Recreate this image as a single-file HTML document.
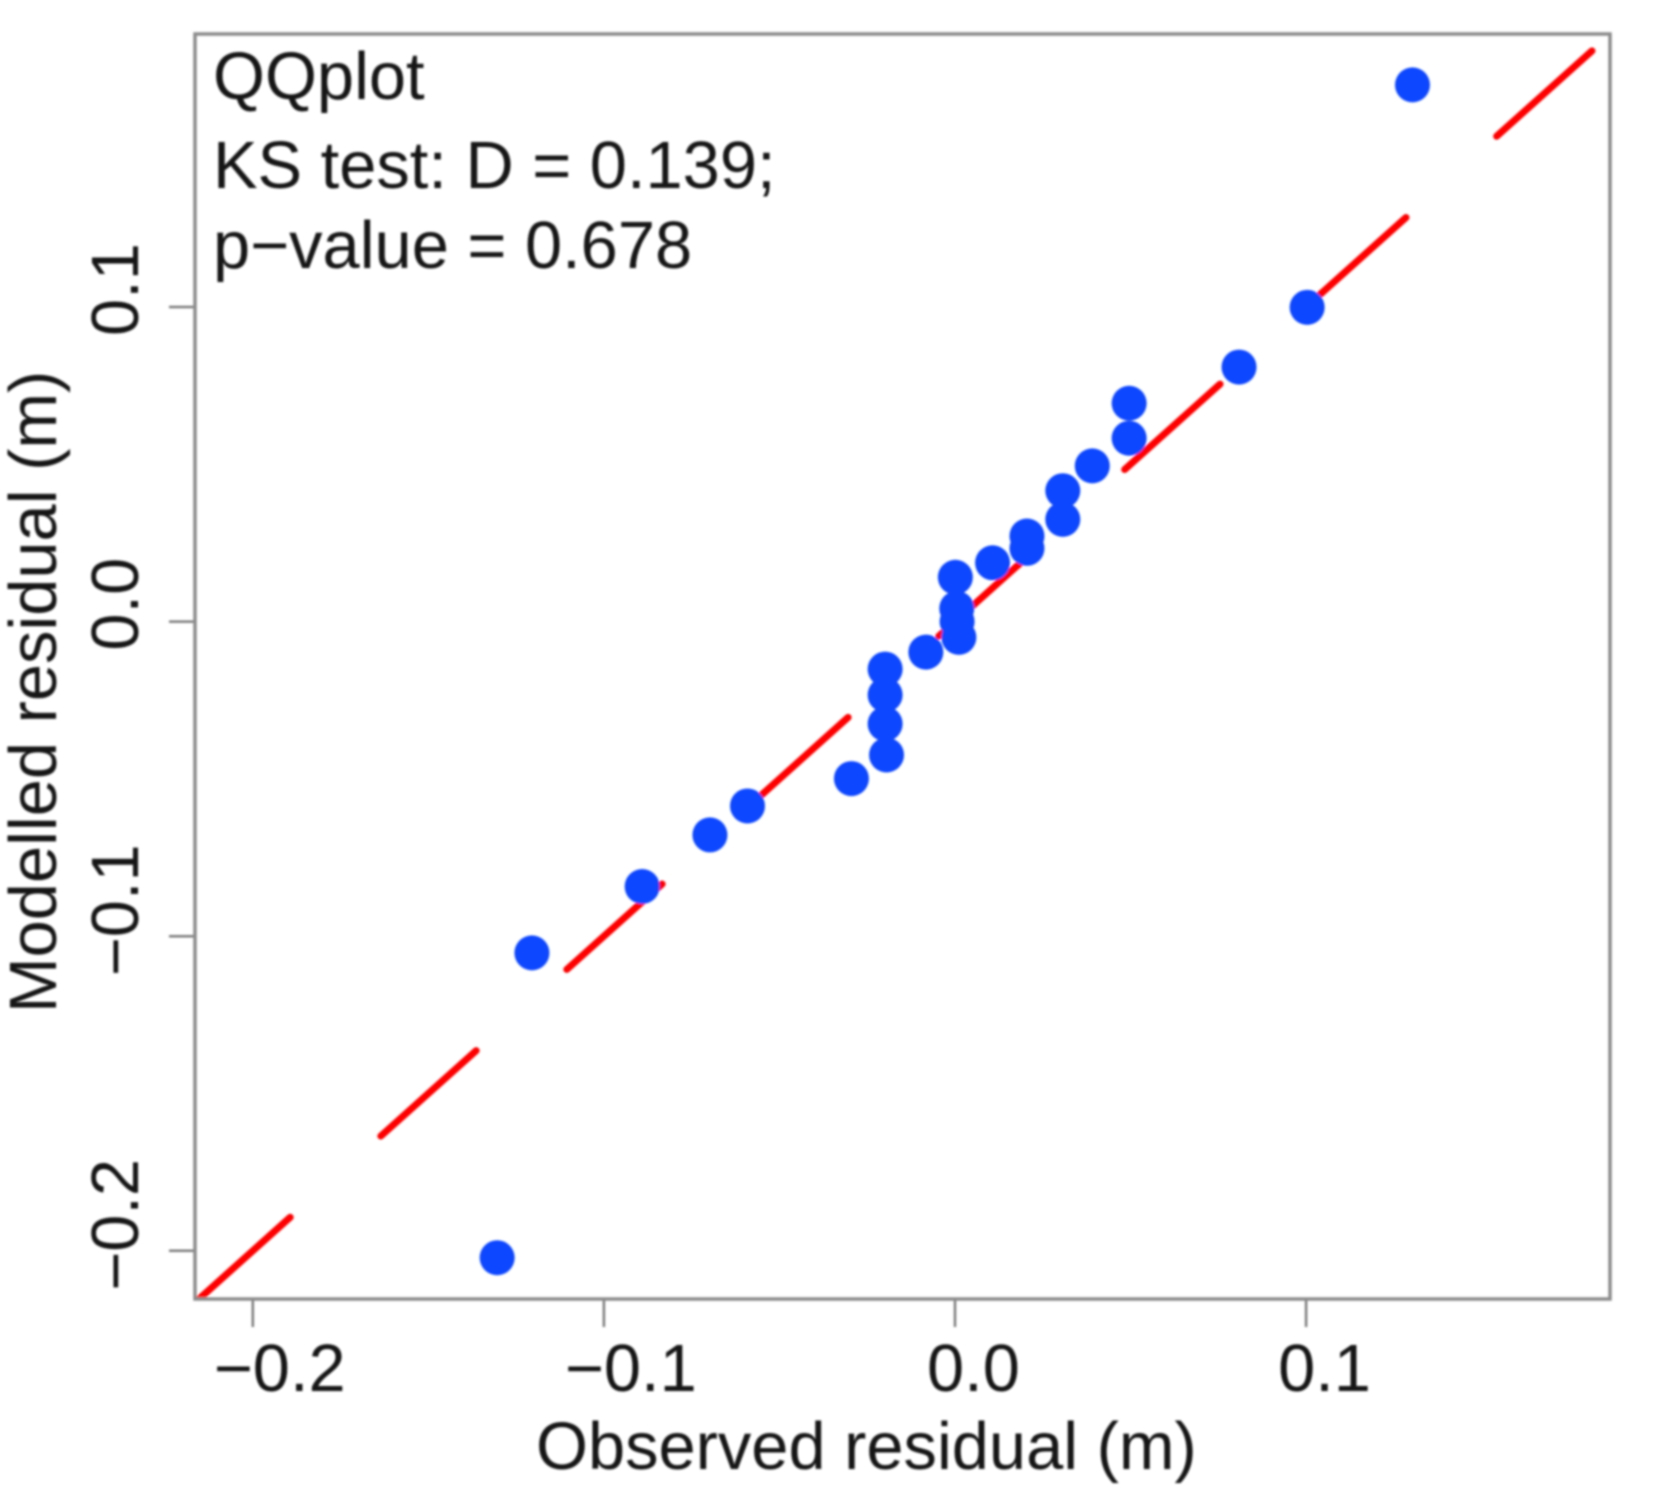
<!DOCTYPE html>
<html>
<head>
<meta charset="utf-8">
<title>QQplot</title>
<style>
html,body{margin:0;padding:0;background:#fff;}
svg{display:block;}
text{font-family:"Liberation Sans",Arial,sans-serif;font-size:66.8px;fill:#161616;}
</style>
</head>
<body>
<svg id="chart" xmlns="http://www.w3.org/2000/svg" width="1654" height="1505" viewBox="0 0 1654 1505">
<defs>
<filter id="soft" x="0" y="0" width="100%" height="100%" filterUnits="userSpaceOnUse" primitiveUnits="userSpaceOnUse"><feGaussianBlur stdDeviation="1"/></filter>
<clipPath id="plot-clip"><rect x="195" y="33" width="1415" height="1266"/></clipPath>
</defs>
<rect x="0" y="0" width="1654" height="1505" fill="#ffffff"/>
<g id="root" filter="url(#soft)">
<g id="ref-layer" clip-path="url(#plot-clip)"></g>
<g id="points-layer"></g>
<g id="x-axis"></g>
<g id="y-axis"></g>
<rect x="195" y="34" width="1415" height="1265" fill="none" stroke="#8c8c8c" stroke-width="3.5"/>
<text x="213" y="99">QQplot</text>
<text x="213" y="188">KS test: D = 0.139;</text>
<text x="213" y="268">p−value = 0.678</text>
<text x="536" y="1469">Observed residual (m)</text>
<text transform="translate(56,1013) rotate(-90)">Modelled residual (m)</text>
</g>
</svg>
<script>
var observed = [-0.1304,-0.1205,-0.0891,-0.0698,-0.0591,-0.0295,-0.0195,-0.0199,-0.0199,-0.0199,-0.0083,0.0011,0.0006,0.0005,0.0001,0.0107,0.0205,0.0205,0.0307,0.0307,0.0391,0.0496,0.0496,0.0809,0.1003,0.1303];
var modelled = [-0.2022,-0.1053,-0.0842,-0.0678,-0.0586,-0.0499,-0.0424,-0.0325,-0.0233,-0.0151,-0.0097,-0.0050,0.0000,0.0042,0.0141,0.0187,0.0233,0.0272,0.0325,0.0416,0.0495,0.0583,0.0694,0.0809,0.0999,0.1706];
var xTicks = [-0.2,-0.1,0.0,0.1];
var yTicks = [-0.2,-0.1,0.0,0.1];
var xLimits = [-0.2165,0.1866];
var NS = 'http://www.w3.org/2000/svg';
function xScale(v){ return 955 + 3511 * v; }
function yScale(v){ return 621.6 - 3146 * v; }
function fmt(v){ return (v < 0 ? '\u2212' : '') + Math.abs(v).toFixed(1); }

var refLayer = document.getElementById('ref-layer');
var refLine = document.createElementNS(NS, 'line');


refLine.setAttribute('x1', xScale(xLimits[0]));
refLine.setAttribute('y1', yScale(xLimits[0]));
refLine.setAttribute('x2', xScale(xLimits[1]));
refLine.setAttribute('y2', yScale(xLimits[1]));
refLine.setAttribute('stroke', '#ff0000');
refLine.setAttribute('stroke-width', '7');
refLine.setAttribute('stroke-linecap', 'round');
refLine.setAttribute('stroke-dasharray', '128 121.7');
refLayer.appendChild(refLine);

var pointsLayer = document.getElementById('points-layer');
observed.forEach(function(o, i){
  var c = document.createElementNS(NS, 'circle');
  
  
  c.setAttribute('cx', xScale(o));
  c.setAttribute('cy', yScale(modelled[i]));
  c.setAttribute('r', '17.5');
  c.setAttribute('fill', '#0d47ff');
  pointsLayer.appendChild(c);
});

var xAxis = document.getElementById('x-axis');
xTicks.forEach(function(v){
  var px = xScale(v);
  var t = document.createElementNS(NS, 'line');
  
  
  t.setAttribute('x1', px);
  t.setAttribute('x2', px);
  t.setAttribute('y1', 1299);
  t.setAttribute('y2', 1327);
  t.setAttribute('stroke', '#7d7d7d');
  t.setAttribute('stroke-width', '2.5');
  xAxis.appendChild(t);
  var l = document.createElementNS(NS, 'text');
  
  
  l.setAttribute('x', px + (v < 0 ? -39 : -28));
  l.setAttribute('y', 1391);
  l.textContent = fmt(v);
  xAxis.appendChild(l);
});

var yAxis = document.getElementById('y-axis');
yTicks.forEach(function(v){
  var py = yScale(v);
  var t = document.createElementNS(NS, 'line');
  
  
  t.setAttribute('x1', 169);
  t.setAttribute('x2', 195);
  t.setAttribute('y1', py);
  t.setAttribute('y2', py);
  t.setAttribute('stroke', '#7d7d7d');
  t.setAttribute('stroke-width', '2.5');
  yAxis.appendChild(t);
  var l = document.createElementNS(NS, 'text');
  
  
  l.setAttribute('transform', 'translate(138,' + (py + (v < 0 ? 40 : 29)) + ') rotate(-90)');
  l.textContent = fmt(v);
  yAxis.appendChild(l);
});
</script>
</body>
</html>
